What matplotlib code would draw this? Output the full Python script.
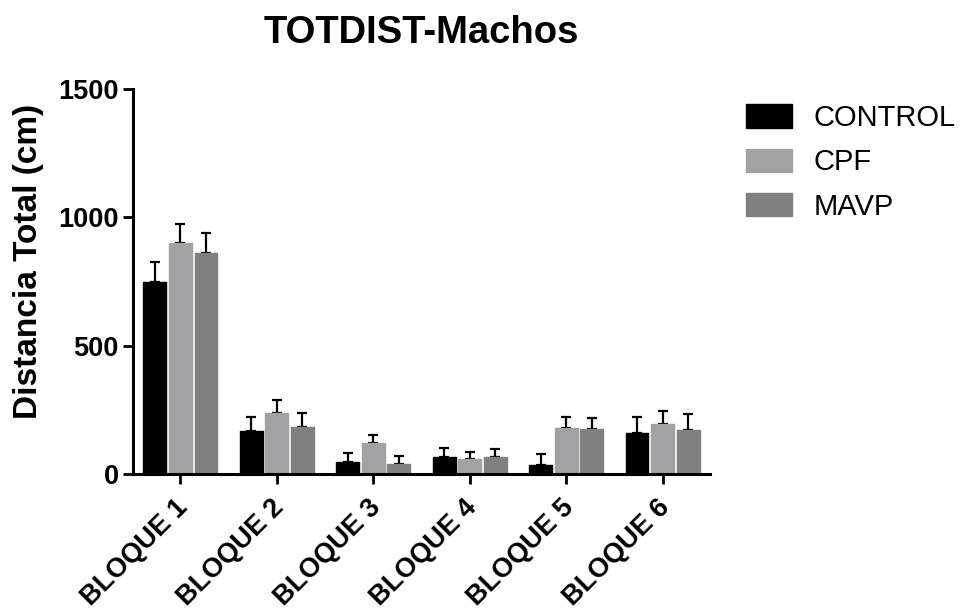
import matplotlib
matplotlib.use("Agg")
import matplotlib.pyplot as plt
import matplotlib.transforms as mtransforms
import numpy as np

plt.rcParams['font.family'] = ['Liberation Sans', 'DejaVu Sans']

categories = ["BLOQUE 1", "BLOQUE 2", "BLOQUE 3", "BLOQUE 4", "BLOQUE 5", "BLOQUE 6"]
groups = ["CONTROL", "CPF", "MAVP"]
control_mean = [749, 167, 48, 67, 34, 161]
control_err = [77, 55, 35, 34, 44, 61]
cpf_mean = [899, 236, 119, 58, 180, 194]
cpf_err = [74, 51, 33, 29, 42, 53]
mavp_mean = [862, 184, 40, 67, 174, 171]
mavp_err = [76, 55, 30, 30, 45, 62]
colors = ["#000000", "#a2a2a5", "#808080"]

means = [control_mean, cpf_mean, mavp_mean]
errs = [control_err, cpf_err, mavp_err]

fig = plt.figure(figsize=(9.62, 6.09), dpi=100)
ax = fig.add_axes([133/962, 1-474/609, (710-133)/962, (474-89)/609])

x = np.arange(len(categories))
offsets = [-0.265, 0.0, 0.265]
width = 0.235
for m, e, c, o, g in zip(means, errs, colors, offsets, groups):
    ax.bar(x + o, m, width=width, color=c, edgecolor=c, linewidth=1.0,
           joinstyle='round', label=g, zorder=2)
    ax.errorbar(x + o, m, yerr=[np.zeros(len(e)), e], fmt='none', ecolor='black',
                elinewidth=1.6, capsize=3.3, capthick=1.6, zorder=1)

ax.set_xlim(-0.49, 5.49)
ax.set_ylim(0, 1500)
ax.set_yticks([0, 500, 1000, 1500])
ax.set_xticks(x)

for s in ['top', 'right']:
    ax.spines[s].set_visible(False)
for s in ['left', 'bottom']:
    ax.spines[s].set_linewidth(2.2)
ax.tick_params(axis='both', length=7.2, width=2.0, direction='out')
ax.tick_params(axis='y', pad=3.0)
ax.tick_params(axis='x', pad=7.5)

ax.set_xticklabels(categories, rotation=45, ha='right', rotation_mode='anchor',
                   fontsize=19.5, fontweight='bold')
shift = mtransforms.ScaledTranslation(-6/100, 0, fig.dpi_scale_trans)
for lab in ax.get_xticklabels():
    lab.set_transform(lab.get_transform() + shift)
for lab in ax.get_yticklabels():
    lab.set_fontsize(19.5)
    lab.set_fontweight('bold')

ax.set_ylabel("Distancia Total (cm)", fontsize=24, fontweight='bold')
ax.yaxis.set_label_coords((44-133)/577, (474-261)/385)
ax.set_title("TOTDIST-Machos", fontsize=27.5, fontweight='bold', pad=33.0)

ax.legend(loc='upper left', bbox_to_anchor=(746/962, 1-104/609),
          bbox_transform=fig.transFigure, frameon=False, fontsize=21,
          handlelength=1.58, handleheight=0.86, handletextpad=0.75,
          labelspacing=0.56, borderpad=0, borderaxespad=0)

fig.savefig("out.png", dpi=100)
